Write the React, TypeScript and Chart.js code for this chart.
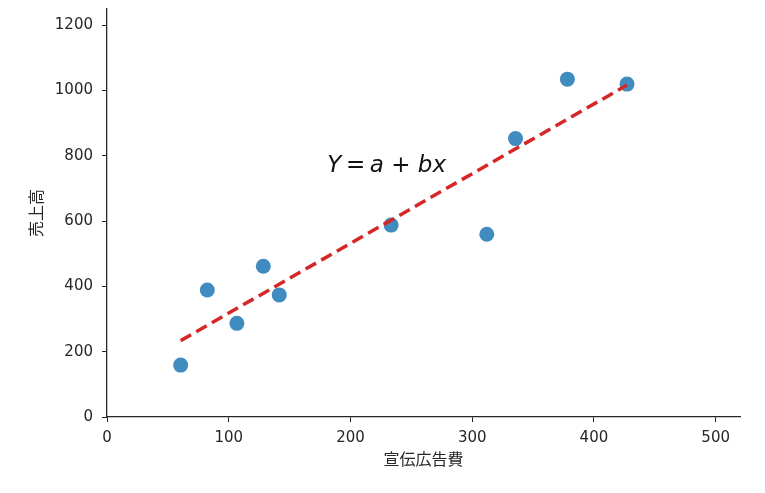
import { useEffect, useRef } from 'react';
import { Chart, registerables, type Plugin } from 'chart.js';

Chart.register(...registerables);

// 宣伝広告費 vs 売上高
const adSpend = [60.5, 82.4, 106.7, 128.4, 141.5, 233.4, 312, 335.6, 378.2, 427.2];
const sales = [159, 389, 287, 462, 374, 588, 560, 853, 1035, 1020];

// fitted line endpoints
const fitX = [60.5, 427.2];
const fitY = [234, 1017];

const xTicks = [0, 100, 200, 300, 400, 500];
const yTicks = [0, 200, 400, 600, 800, 1000, 1200];

const INK = '#262626';
const TICK_FONT = { family: 'DejaVu Sans', size: 15 };

// the "Y = a + bx" label, placed in data coords
const equation: Plugin = {
  id: 'equation',
  afterDatasetsDraw(chart) {
    const { ctx, scales } = chart;
    let x = scales.x.getPixelForValue(181);
    const y = scales.y.getPixelForValue(752);
    const parts: [string, boolean][] = [
      ['Y', true], ['\u2009=\u2009', false], ['a', true], [' + ', false], ['bx', true],
    ];
    ctx.save();
    ctx.fillStyle = '#111';
    ctx.textBaseline = 'alphabetic';
    ctx.textAlign = 'left';
    for (const [s, it] of parts) {
      ctx.font = `${it ? 'oblique ' : ''}23px "DejaVu Sans"`;
      ctx.fillText(s, x, y);
      x += ctx.measureText(s).width;
    }
    ctx.restore();
  },
};

export default function App() {
  const ref = useRef<HTMLCanvasElement>(null);

  useEffect(() => {
    if (!ref.current) return;
    const chart = new Chart(ref.current, {
      type: 'scatter',
      data: {
        datasets: [
          {
            type: 'line',
            data: fitX.map((x, i) => ({ x, y: fitY[i] })),
            borderColor: '#d62728',
            borderWidth: 3.5,
            borderDash: [12, 6],
            pointRadius: 0,
            fill: false,
            order: 0,
          },
          {
            data: adSpend.map((x, i) => ({ x, y: sales[i] })),
            backgroundColor: 'rgba(31,119,180,0.85)',
            borderWidth: 0,
            pointRadius: 7.5,
            order: 1,
          },
        ],
      },
      options: {
        animation: false,
        responsive: false,
        layout: { padding: { top: 9, right: 25, left: 26, bottom: 24 } },
        plugins: { legend: { display: false }, tooltip: { enabled: false } },
        scales: {
          x: {
            type: 'linear',
            min: 0,
            max: 520,
            afterBuildTicks: (s) => { s.ticks = xTicks.map((value) => ({ value })); },
            afterFit: (s) => { s.height = 52; },
            grid: { drawOnChartArea: false, drawTicks: true, tickLength: 5, color: INK },
            border: { display: true, color: INK, width: 1.3 },
            ticks: { color: INK, font: TICK_FONT, padding: 7, callback: (v) => String(v) },
            title: {
              display: true,
              text: '宣伝広告費',
              color: INK,
              font: { family: 'Noto Sans CJK JP', size: 16 },
              padding: { top: 2, bottom: 0 },
            },
          },
          y: {
            type: 'linear',
            min: 0,
            max: 1250,
            afterBuildTicks: (s) => { s.ticks = yTicks.map((value) => ({ value })); },
            afterFit: (s) => { s.width = 81; s.paddingTop = 0; s.paddingBottom = 0; },
            grid: { drawOnChartArea: false, drawTicks: true, tickLength: 5, color: INK },
            border: { display: true, color: INK, width: 1.3 },
            ticks: { color: INK, font: TICK_FONT, padding: 9, callback: (v) => String(v) },
            title: {
              display: true,
              text: '売上高',
              color: INK,
              font: { family: 'Noto Sans CJK JP', size: 16 },
              padding: { top: 0, bottom: 0 },
            },
          },
        },
      },
      plugins: [equation],
    });
    return () => chart.destroy();
  }, []);

  return (
    <div style={{ position: 'fixed', left: 0, top: 0, width: 765, height: 493, background: '#fff' }}>
      <canvas ref={ref} width={765} height={493} style={{ width: 765, height: 493 }} />
    </div>
  );
}
